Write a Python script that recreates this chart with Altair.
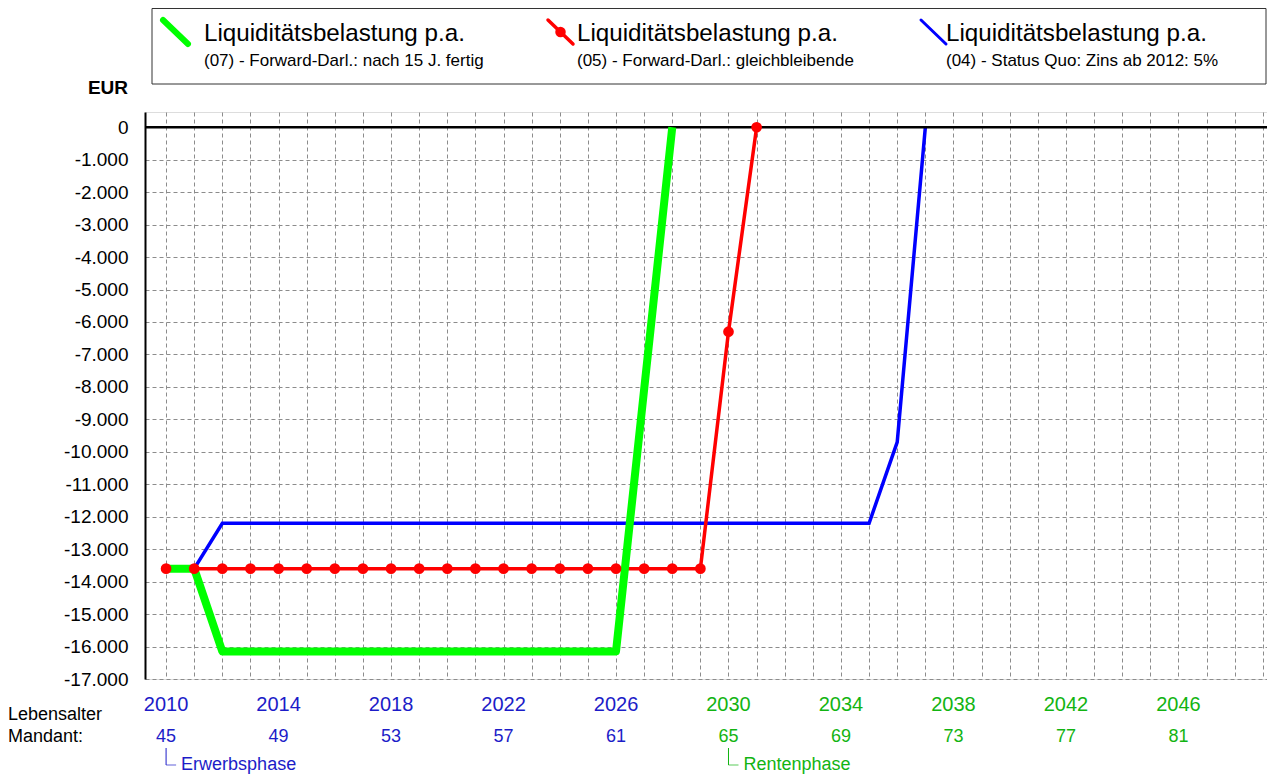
import altair as alt
import pandas as pd

# ---------------- data ----------------
years_07 = [2010, 2011, 2012, 2013, 2014, 2015, 2016, 2017, 2018, 2019, 2020,
            2021, 2022, 2023, 2024, 2025, 2026, 2028]
values_07 = [-13600, -13600, -16150, -16150, -16150, -16150, -16150, -16150,
             -16150, -16150, -16150, -16150, -16150, -16150, -16150, -16150,
             -16150, 0]

years_05 = [2010, 2011, 2012, 2013, 2014, 2015, 2016, 2017, 2018, 2019, 2020,
            2021, 2022, 2023, 2024, 2025, 2026, 2027, 2028, 2029, 2030, 2031]
values_05 = [-13600, -13600, -13600, -13600, -13600, -13600, -13600, -13600,
             -13600, -13600, -13600, -13600, -13600, -13600, -13600, -13600,
             -13600, -13600, -13600, -13600, -6300, 0]

years_04 = [2011, 2012, 2013, 2014, 2015, 2016, 2017, 2018, 2019, 2020, 2021,
            2022, 2023, 2024, 2025, 2026, 2027, 2028, 2029, 2030, 2031, 2032,
            2033, 2034, 2035, 2036, 2037]
values_04 = [-13600, -12200, -12200, -12200, -12200, -12200, -12200, -12200,
             -12200, -12200, -12200, -12200, -12200, -12200, -12200, -12200,
             -12200, -12200, -12200, -12200, -12200, -12200, -12200, -12200,
             -12200, -9700, 0]

legend_titles = ["Liquiditätsbelastung p.a.", "Liquiditätsbelastung p.a.",
                 "Liquiditätsbelastung p.a."]
legend_descs = ["(07) - Forward-Darl.: nach 15 J. fertig",
                "(05) - Forward-Darl.: gleichbleibende",
                "(04) - Status Quo: Zins ab 2012: 5%"]

label_years = [2010, 2014, 2018, 2022, 2026, 2030, 2034, 2038, 2042, 2046]
label_ages = [45, 49, 53, 57, 61, 65, 69, 73, 77, 81]
retirement_year = 2030

phase_years = [2010, 2030]
phase_names = ["Erwerbsphase", "Rentenphase"]

y_ticks = [-17000, -16000, -15000, -14000, -13000, -12000, -11000, -10000,
           -9000, -8000, -7000, -6000, -5000, -4000, -3000, -2000, -1000, 0]

# ---------------- style ----------------
FONT = "Liberation Sans"
GREEN = "#00ff00"
RED = "#ff0000"
BLUE = "#0000ff"
TXT_BLUE = "#1c1cc8"
TXT_GREEN = "#12b412"
GRID = "#8c8c8c"

TOTAL_W, TOTAL_H = 1259, 768
PAD_L, PAD_T = 137, 104
W, H = TOTAL_W - PAD_L, 567
OX, OY = 8 + PAD_L, 8 + PAD_T   # page position of plot origin

df07 = pd.DataFrame({"year": years_07, "value": values_07})
df05 = pd.DataFrame({"year": years_05, "value": values_05})
df04 = pd.DataFrame({"year": years_04, "value": values_04})

x_scale = alt.Scale(domain=[2009.25, 2049.15], nice=False, zero=False)
y_scale = alt.Scale(domain=[-17000, 470], nice=False, zero=False)

x_axis = alt.Axis(values=list(range(2010, 2050)), labels=False, ticks=False,
                  domain=False, grid=True, gridDash=[4, 3], gridColor=GRID,
                  gridWidth=1, title=None)
y_axis = alt.Axis(values=y_ticks, ticks=False, domain=True, domainColor="black",
                  domainWidth=2,
                  labelExpr="(datum.value < 0 ? '-' : '') + replace(format(abs(datum.value), ','), regexp(',', 'g'), '.')",
                  labelFont=FONT, labelFontSize=19, labelColor="black",
                  labelPadding=17, grid=True, gridDash=[4, 3], gridColor=GRID,
                  gridWidth=1, title=None)


def enc_x():
    return alt.X("year:Q", scale=x_scale, axis=x_axis)


def enc_y():
    return alt.Y("value:Q", scale=y_scale, axis=y_axis)


blue_line = alt.Chart(df04).mark_line(color=BLUE, strokeWidth=3.5).encode(
    x=enc_x(), y=enc_y())
red_line = alt.Chart(df05).mark_line(color=RED, strokeWidth=3.5).encode(
    x=enc_x(), y=enc_y())
green_line = alt.Chart(df07).mark_line(color=GREEN, strokeWidth=8,
                                       strokeJoin="round").encode(
    x=enc_x(), y=enc_y())
red_pts = alt.Chart(df05).mark_circle(color=RED, size=115, opacity=1).encode(
    x=enc_x(), y=enc_y())

zero_rule = alt.Chart(pd.DataFrame({"value": [0]})).mark_rule(
    color="black", strokeWidth=2.5).encode(y=enc_y())

# --- bottom labels ---
lab_df = pd.DataFrame({"year": label_years, "age": label_ages})
col_cond = alt.condition(f"datum.year < {retirement_year}", alt.value(TXT_BLUE),
                         alt.value(TXT_GREEN))
year_txt = alt.Chart(lab_df).mark_text(font=FONT, fontSize=20, align="center",
                                       baseline="alphabetic").encode(
    x=enc_x(), y=alt.value(711 - OY), text="year:N", color=col_cond)
age_txt = alt.Chart(lab_df).mark_text(font=FONT, fontSize=18, align="center",
                                      baseline="alphabetic").encode(
    x=enc_x(), y=alt.value(742 - OY), text="age:N", color=col_cond)

side_df = pd.DataFrame({"t": ["Lebensalter", "Mandant:"], "yy": [720 - OY, 742 - OY]})
side_txt = alt.Chart(side_df).mark_text(font=FONT, fontSize=18, align="left",
                                        baseline="alphabetic", color="black").encode(
    x=alt.value(8 - OX), y=alt.Y("yy:Q", scale=None), text="t:N")

ph_df = pd.DataFrame({"year": phase_years, "name": phase_names})
ph_col = alt.condition(f"datum.year < {retirement_year}", alt.value(TXT_BLUE),
                       alt.value(TXT_GREEN))
ph_vert = alt.Chart(ph_df).mark_rule(strokeWidth=1).encode(
    x=enc_x(), y=alt.value(748 - OY), y2=alt.value(765 - OY), color=ph_col)
ph_horiz = alt.Chart(ph_df).mark_tick(orient="horizontal", size=10, thickness=1,
                                      xOffset=5).encode(
    x=enc_x(), y=alt.value(765 - OY), color=ph_col)
ph_txt = alt.Chart(ph_df).mark_text(font=FONT, fontSize=18, align="left",
                                    baseline="alphabetic", dx=15).encode(
    x=enc_x(), y=alt.value(770 - OY), text="name:N", color=ph_col)

eur_txt = alt.Chart(pd.DataFrame({"t": ["EUR"]})).mark_text(
    font=FONT, fontSize=19, fontWeight="bold", align="center",
    baseline="alphabetic", color="black").encode(
    x=alt.value(108 - OX), y=alt.value(94 - OY), text="t:N")

# --- legend box ---
one = pd.DataFrame({"a": [0]})
leg_box = alt.Chart(one).mark_rect(fill="white", stroke="#333333",
                                   strokeWidth=1).encode(
    x=alt.value(152 - OX), x2=alt.value(1266 - OX),
    y=alt.value(8.5 - OY), y2=alt.value(84 - OY))

leg_layers = []
icon_x = [163, 548, 921]
text_x = [204, 577, 946]
icon_cols = [GREEN, RED, BLUE]
icon_w = [6, 3.5, 3]
for i in range(3):
    d = pd.DataFrame({"title": [legend_titles[i]], "desc": [legend_descs[i]]})
    x0 = icon_x[i] - OX
    leg_layers.append(alt.Chart(d).mark_rule(color=icon_cols[i], strokeWidth=icon_w[i],
                                             strokeCap="round").encode(
        x=alt.value(x0), x2=alt.value(x0 + 25), y=alt.value(20 - OY),
        y2=alt.value(44 - OY)))
    if i == 1:
        leg_layers.append(alt.Chart(d).mark_circle(color=RED, size=110, opacity=1).encode(
            x=alt.value(x0 + 12.5), y=alt.value(32 - OY)))
    tx = text_x[i] - OX
    leg_layers.append(alt.Chart(d).mark_text(font=FONT, fontSize=24.2, align="left",
                                             baseline="alphabetic", color="black").encode(
        x=alt.value(tx), y=alt.value(41 - OY), text="title:N"))
    leg_layers.append(alt.Chart(d).mark_text(font=FONT, fontSize=17, align="left",
                                             baseline="alphabetic", color="black").encode(
        x=alt.value(tx), y=alt.value(66 - OY), text="desc:N"))

chart = alt.layer(
    blue_line, red_line, zero_rule, green_line, red_pts,
    year_txt, age_txt, side_txt, ph_vert, ph_horiz, ph_txt, eur_txt,
    leg_box, *leg_layers
).properties(
    width=W, height=H,
    padding={"left": PAD_L, "top": PAD_T, "right": 0, "bottom": TOTAL_H - PAD_T - H},
    autosize=alt.AutoSizeParams(type="none"),
).configure_view(stroke=None).configure(background="white")

chart.save("out.html", embed_options={"renderer": "svg", "actions": False})
